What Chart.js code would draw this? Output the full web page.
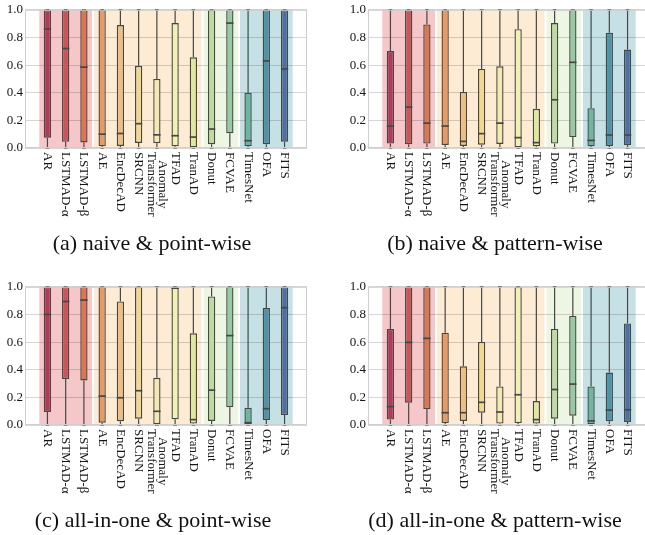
<!DOCTYPE html>
<html>
<head>
<meta charset="utf-8">
<script src="https://cdn.jsdelivr.net/npm/chart.js@4.4.1/dist/chart.umd.min.js"></script>
<style>
  body { margin: 0; background: #fff; width: 645px; height: 535px; overflow: hidden; position: relative; font-family: "Liberation Serif", serif; }
  canvas { position: absolute; }
  .cap { position: absolute; width: 320px; text-align: center; font-size: 22px; line-height: 24px; color: #111; white-space: nowrap; }
</style>
</head>
<body>
<canvas id="chart-a" width="322" height="240" style="left:0;top:0"></canvas>
<canvas id="chart-b" width="322" height="240" style="left:343px;top:0"></canvas>
<canvas id="chart-c" width="322" height="240" style="left:0;top:277px"></canvas>
<canvas id="chart-d" width="322" height="240" style="left:343px;top:277px"></canvas>
<div class="cap" style="left:-8px;top:231px">(a) naive &amp; point-wise</div>
<div class="cap" style="left:335px;top:231px">(b) naive &amp; pattern-wise</div>
<div class="cap" style="left:-7px;top:508px">(c) all-in-one &amp; point-wise</div>
<div class="cap" style="left:335px;top:508px">(d) all-in-one &amp; pattern-wise</div>
<script>
// methods on the x axis
const methods = ['AR', 'LSTMAD-α', 'LSTMAD-β', 'AE', 'EncDecAD', 'SRCNN', 'Anomaly\nTransformer',
  'TFAD', 'TranAD', 'Donut', 'FCVAE', 'TimesNet', 'OFA', 'FITS'];

// method families (first and last index of each shaded band)
const groupFirst = [0, 3, 9, 11];
const groupLast = [2, 8, 10, 13];
const groupColors = ['#f5c7c8', '#fdebd4', '#edf6e2', '#c6e1e6'];

const boxColors = ['#b03a58', '#cc5458', '#dd7650', '#e89a62', '#eebf7e', '#f1d88e', '#f3eaaf',
  '#eef2b2', '#dfe99a', '#bcdca0', '#96cba1', '#6cb7a0', '#4b93a7', '#4b70a1'];

// whiskers reach the full range for every method
const whiskerLow = [0, 0, 0, 0, 0, 0, 0, 0, 0, 0, 0, 0, 0, 0];
const whiskerHigh = [1, 1, 1, 1, 1, 1, 1, 1, 1, 1, 1, 1, 1, 1];

// (a) naive & point-wise
const naivePointQ1 = [0.075, 0.045, 0.04, 0.012, 0.015, 0.036, 0.035, 0.012, 0.005, 0.027, 0.106, 0.012, 0.027, 0.046];
const naivePointMed = [0.86, 0.72, 0.585, 0.10, 0.105, 0.176, 0.095, 0.089, 0.079, 0.137, 0.904, 0.053, 0.63, 0.572];
const naivePointQ3 = [1, 1, 1, 1, 0.89, 0.595, 0.50, 0.904, 0.656, 1, 1, 0.40, 1, 1];

// (b) naive & pattern-wise
const naivePatternQ1 = [0.032, 0.027, 0.032, 0.022, 0.015, 0.024, 0.029, 0.005, 0.012, 0.032, 0.079, 0.012, 0.015, 0.022];
const naivePatternMed = [0.159, 0.296, 0.18, 0.159, 0.048, 0.104, 0.18, 0.075, 0.039, 0.349, 0.62, 0.055, 0.094, 0.094];
const naivePatternQ3 = [0.702, 1, 0.894, 1, 0.406, 0.572, 0.591, 0.86, 0.284, 0.904, 1, 0.288, 0.834, 0.712];

// (c) all-in-one & point-wise
const allPointQ1 = [0.094, 0.332, 0.322, 0.017, 0.027, 0.046, 0.007, 0.041, 0.01, 0.029, 0.128, 0.005, 0.036, 0.072];
const allPointMed = [0.80, 0.894, 0.904, 0.209, 0.197, 0.248, 0.099, 0.99, 0.039, 0.252, 0.647, 0.017, 0.118, 0.849];
const allPointQ3 = [1, 1, 1, 1, 0.894, 1, 0.341, 1, 0.663, 0.93, 1, 0.125, 0.846, 1];

// (d) all-in-one & pattern-wise
const allPatternQ1 = [0.039, 0.161, 0.115, 0.014, 0.029, 0.089, 0.01, 0.014, 0.01, 0.046, 0.067, 0.005, 0.027, 0.022];
const allPatternMed = [0.133, 0.598, 0.627, 0.089, 0.089, 0.164, 0.094, 0.219, 0.039, 0.257, 0.296, 0.03, 0.108, 0.11];
const allPatternQ3 = [0.695, 1, 1, 0.668, 0.425, 0.601, 0.279, 1, 0.173, 0.695, 0.789, 0.279, 0.38, 0.735];

const yTicks = [0, 0.2, 0.4, 0.6, 0.8, 1.0];

const EDGE = '#474747';
const FONT = '"Liberation Serif", "Times New Roman", serif';

/**
 * Bands, whiskers, medians, frame and rotated method labels.
 */
function boxPlugin(q1, med, q3) {
  return {
    id: 'boxes',
    beforeDraw(chart) {
      const { ctx, chartArea: area, scales: { x } } = chart;
      ctx.save();
      groupFirst.forEach((first, g) => {
        const left = x.getPixelForValue(first - 0.5) + 1;
        const right = x.getPixelForValue(groupLast[g] + 0.5) - 1;
        ctx.fillStyle = groupColors[g];
        ctx.fillRect(left, area.top, right - left, area.bottom - area.top);
      });
      ctx.restore();
    },
    beforeDatasetsDraw(chart) {
      const { ctx, scales: { y } } = chart;
      const bars = chart.getDatasetMeta(0).data;
      ctx.save();
      ctx.strokeStyle = EDGE;
      ctx.lineWidth = 1.2;
      bars.forEach((bar, i) => {
        const cap = bar.width * 0.25;
        const yLo = y.getPixelForValue(whiskerLow[i]);
        const yHi = y.getPixelForValue(whiskerHigh[i]);
        ctx.beginPath();
        ctx.moveTo(bar.x, yLo);
        ctx.lineTo(bar.x, y.getPixelForValue(q1[i]));
        ctx.moveTo(bar.x, y.getPixelForValue(q3[i]));
        ctx.lineTo(bar.x, yHi);
        ctx.moveTo(bar.x - cap, yLo);
        ctx.lineTo(bar.x + cap, yLo);
        ctx.moveTo(bar.x - cap, yHi);
        ctx.lineTo(bar.x + cap, yHi);
        ctx.stroke();
      });
      ctx.restore();
    },
    afterDatasetsDraw(chart) {
      const { ctx, scales: { y } } = chart;
      const bars = chart.getDatasetMeta(0).data;
      ctx.save();
      ctx.strokeStyle = EDGE;
      ctx.lineWidth = 1.7;
      bars.forEach((bar, i) => {
        const ym = y.getPixelForValue(med[i]);
        ctx.beginPath();
        ctx.moveTo(bar.x - bar.width / 2, ym);
        ctx.lineTo(bar.x + bar.width / 2, ym);
        ctx.stroke();
      });
      ctx.restore();
    },
    afterDraw(chart) {
      const { ctx, chartArea: area, scales: { x } } = chart;
      ctx.save();
      ctx.strokeStyle = '#cfcfcf';
      ctx.lineWidth = 1;
      ctx.strokeRect(area.left + 0.5, area.top + 0.5, area.right - area.left - 1, area.bottom - area.top - 1);

      ctx.fillStyle = '#151515';
      ctx.font = '13px ' + FONT;
      ctx.textBaseline = 'middle';
      methods.forEach((name, i) => {
        const lines = name.split('\n');
        const longest = Math.max(...lines.map(l => ctx.measureText(l).width));
        ctx.save();
        ctx.translate(x.getPixelForValue(i), area.bottom + 4);
        ctx.rotate(Math.PI / 2);
        ctx.textAlign = 'center';
        lines.forEach((line, k) => {
          const offset = (k - (lines.length - 1) / 2) * 11.5;
          ctx.fillText(line, longest / 2, offset);
        });
        ctx.restore();
      });
      ctx.restore();
    }
  };
}

function makeChart(id, q1, med, q3) {
  const canvas = document.getElementById(id);
  return new Chart(canvas.getContext('2d'), {
    type: 'bar',
    data: {
      datasets: [{
        data: methods.map((m, i) => ({ x: i, y: [q1[i], q3[i]] })),
        backgroundColor: boxColors,
        borderColor: EDGE,
        borderWidth: 1.4,
        borderSkipped: false,
        barPercentage: 0.4,
        categoryPercentage: 1
      }]
    },
    options: {
      responsive: false,
      animation: false,
      devicePixelRatio: 1,
      layout: { padding: { left: 0, right: 15, top: 9, bottom: 92 } },
      plugins: {
        legend: { display: false },
        tooltip: { enabled: false }
      },
      scales: {
        x: { type: 'linear', display: false, offset: false, min: -1.23, max: 14.23 },
        y: {
          min: 0,
          max: 1,
          afterBuildTicks: scale => { scale.ticks = yTicks.map(v => ({ value: v })); },
          ticks: {
            callback: v => v.toFixed(1),
            font: { family: FONT, size: 13 },
            color: '#151515',
            padding: 2
          },
          grid: { color: 'rgba(0,0,0,0.16)', drawTicks: false },
          border: { display: false },
          afterFit: scale => { scale.width = 25; }
        }
      }
    },
    plugins: [boxPlugin(q1, med, q3)]
  });
}

makeChart('chart-a', naivePointQ1, naivePointMed, naivePointQ3);
makeChart('chart-b', naivePatternQ1, naivePatternMed, naivePatternQ3);
makeChart('chart-c', allPointQ1, allPointMed, allPointQ3);
makeChart('chart-d', allPatternQ1, allPatternMed, allPatternQ3);
</script>
</body>
</html>
